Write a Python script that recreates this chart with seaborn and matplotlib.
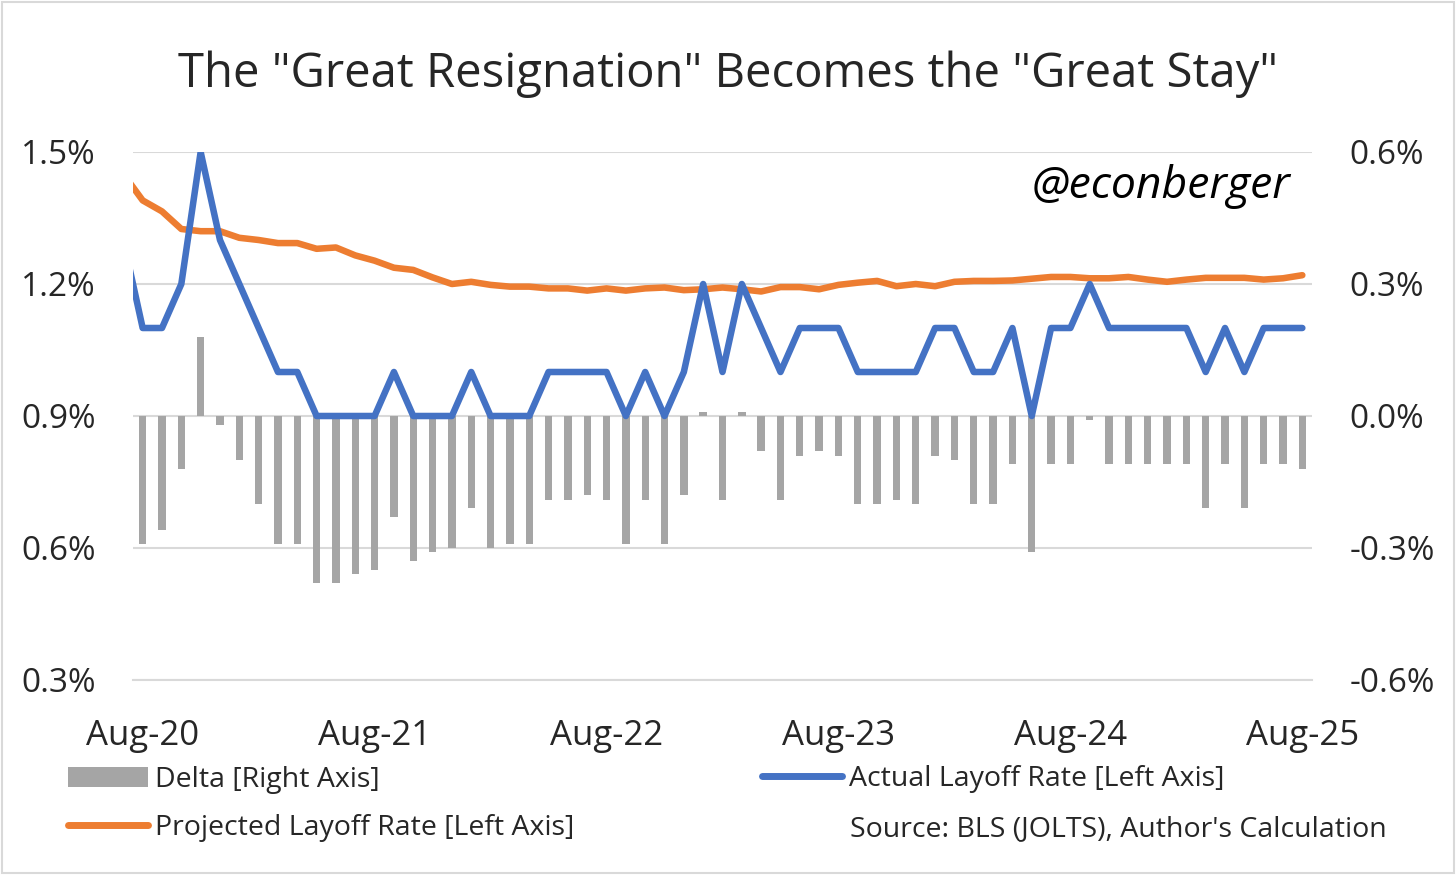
"""JOLTS layoff rate: actual vs projected, with the delta as bars"""

import numpy as np
import pandas as pd
import matplotlib

matplotlib.use("Agg")
import matplotlib.pyplot as plt
from matplotlib.lines import Line2D
from matplotlib.patches import Patch, Rectangle
import seaborn as sns

# monthly, Jul-20 .. Aug-25 (Jul-20 only feeds the clipped start of the lines)
months = pd.date_range("2020-07-01", "2025-08-01", freq="MS")

actual = [
    1.3, 1.1, 1.1, 1.2, 1.5, 1.3, 1.2, 1.1, 1.0, 1.0, 0.9, 0.9, 0.9,
    0.9, 1.0, 0.9, 0.9, 0.9, 1.0, 0.9, 0.9, 0.9, 1.0, 1.0, 1.0,
    1.0, 0.9, 1.0, 0.9, 1.0, 1.2, 1.0, 1.2, 1.1, 1.0, 1.1, 1.1,
    1.1, 1.0, 1.0, 1.0, 1.0, 1.1, 1.1, 1.0, 1.0, 1.1, 0.9, 1.1,
    1.1, 1.2, 1.1, 1.1, 1.1, 1.1, 1.1, 1.0, 1.1, 1.0, 1.1, 1.1,
    1.1,
]

projected = [
    1.45, 1.39, 1.365, 1.325, 1.32, 1.32, 1.305, 1.30, 1.293, 1.293, 1.28, 1.283, 1.265,
    1.253, 1.237, 1.232, 1.215, 1.20, 1.205, 1.198, 1.194, 1.194, 1.19, 1.19, 1.185,
    1.19, 1.185, 1.19, 1.192, 1.186, 1.188, 1.192, 1.188, 1.183, 1.193, 1.193, 1.188,
    1.198, 1.203, 1.207, 1.195, 1.20, 1.195, 1.205, 1.207, 1.207, 1.208, 1.212, 1.216,
    1.216, 1.213, 1.213, 1.216, 1.21, 1.205, 1.21, 1.214, 1.214, 1.214, 1.21, 1.213,
    1.22,
]

# Aug-20 .. Aug-25
delta = [
    -0.29, -0.26, -0.12, 0.18, -0.02, -0.10, -0.20, -0.29, -0.29, -0.38, -0.38, -0.36,
    -0.35, -0.23, -0.33, -0.31, -0.30, -0.21, -0.30, -0.29, -0.29, -0.19, -0.19, -0.18,
    -0.19, -0.29, -0.19, -0.29, -0.18, 0.01, -0.19, 0.01, -0.08, -0.19, -0.09, -0.08,
    -0.09, -0.20, -0.20, -0.19, -0.20, -0.09, -0.10, -0.20, -0.20, -0.11, -0.31, -0.11,
    -0.11, -0.01, -0.11, -0.11, -0.11, -0.11, -0.11, -0.21, -0.11, -0.21, -0.11, -0.11,
    -0.12,
]

tick_labels = ["Aug-20", "Aug-21", "Aug-22", "Aug-23", "Aug-24", "Aug-25"]
left_ticks = [0.3, 0.6, 0.9, 1.2, 1.5]
right_ticks = [-0.6, -0.3, 0.0, 0.3, 0.6]

BLUE = "#4472C4"
ORANGE = "#ED7D31"
GRAY = "#A5A5A5"
GRID = "#D9D9D9"
TEXT = "#262626"

# month offset from Aug-20
pos = (months.year - 2020) * 12 + months.month - 8
lines_df = pd.DataFrame({"pos": pos, "actual": actual, "projected": projected})
bars_df = pd.DataFrame({"pos": pos[1:], "delta": delta})

sns.set_theme(style="white")
plt.rcParams["font.family"] = ["Open Sans", "DejaVu Sans"]

fig = plt.figure(figsize=(14.56, 8.75), dpi=100)
ax = fig.add_axes([133 / 1456, 195 / 875, 1179 / 1456, 528 / 875])
ax2 = ax.twinx()

# bars on the right axis, behind the lines
sns.barplot(data=bars_df, x="pos", y="delta", native_scale=True, width=0.38,
            color=GRAY, saturation=1, linewidth=0, errorbar=None, ax=ax2)
sns.lineplot(data=lines_df, x="pos", y="projected", color=ORANGE, lw=4.7,
             solid_joinstyle="round", ax=ax)
sns.lineplot(data=lines_df, x="pos", y="actual", color=BLUE, lw=4.7,
             solid_joinstyle="round", ax=ax)

ax.set_zorder(ax2.get_zorder() + 1)
ax.patch.set_visible(False)

ax.set_xlim(-0.5, 60.5)
ax.set_ylim(0.3, 1.5)
ax2.set_ylim(-0.6, 0.6)
ax.set(xlabel="", ylabel="")
ax2.set(xlabel="", ylabel="")

label_pos = lines_df.loc[months.month == 8, "pos"].to_numpy()
ax.set_xticks(label_pos, tick_labels)
ax.set_xticks(label_pos - 0.5, minor=True)
ax.tick_params(axis="x", which="major", length=0, pad=28, labelsize=25, labelcolor=TEXT)
ax.tick_params(axis="x", which="minor", length=8, width=1.5, color=GRID, direction="out")

ax.set_yticks(left_ticks, [f"{v:.1f}%" for v in left_ticks])
ax.tick_params(axis="y", length=0, pad=27, labelsize=24, labelcolor=TEXT)
ax2.set_yticks(right_ticks, [f"{v:.1f}%" for v in right_ticks])
ax2.tick_params(axis="y", length=0, pad=27, labelsize=24, labelcolor=TEXT)

ax2.grid(axis="y", color=GRID, lw=1.5)
ax2.set_axisbelow(True)
ax.grid(False)

for spine in ax.spines.values():
    spine.set_visible(False)
for spine in ax2.spines.values():
    spine.set_visible(False)
ax.spines["bottom"].set_visible(True)
ax.spines["bottom"].set_color(GRID)
ax.spines["bottom"].set_linewidth(1.5)

fig.text(0.5, 1 - 87 / 875, 'The "Great Resignation" Becomes the "Great Stay"',
         ha="center", va="baseline", fontsize=34, color=TEXT)
fig.text(1290 / 1456, 1 - 198 / 875, "@econberger", ha="right", va="baseline",
         fontsize=32, style="italic", color="black")

leg1 = fig.legend(
    handles=[Patch(facecolor=GRAY, edgecolor="none"),
             Line2D([], [], color=ORANGE, lw=5, solid_capstyle="round")],
    labels=["Delta [Right Axis]", "Projected Layoff Rate [Left Axis]"],
    loc="center left", bbox_to_anchor=(68 / 1456, 1 - 804 / 875),
    frameon=False, fontsize=20.5, handlelength=2.8, handletextpad=0.25,
    labelspacing=0.72, borderpad=0, borderaxespad=0, labelcolor=TEXT,
)
leg2 = fig.legend(
    handles=[Line2D([], [], color=BLUE, lw=5, solid_capstyle="round")],
    labels=["Actual Layoff Rate [Left Axis]"],
    loc="center left", bbox_to_anchor=(762 / 1456, 1 - 779 / 875),
    frameon=False, fontsize=20.5, handlelength=2.8, handletextpad=0.25,
    borderpad=0, borderaxespad=0, labelcolor=TEXT,
)
fig.text(850 / 1456, 1 - 829 / 875, "Source: BLS (JOLTS), Author's Calculation",
         ha="left", va="center", fontsize=20.5, color=TEXT)

fig.add_artist(Rectangle((0.0015, 0.002), 0.997, 0.996, transform=fig.transFigure,
                         fill=False, edgecolor=GRID, lw=1.5))

fig.savefig("out.png", dpi=100)
plt.close(fig)
